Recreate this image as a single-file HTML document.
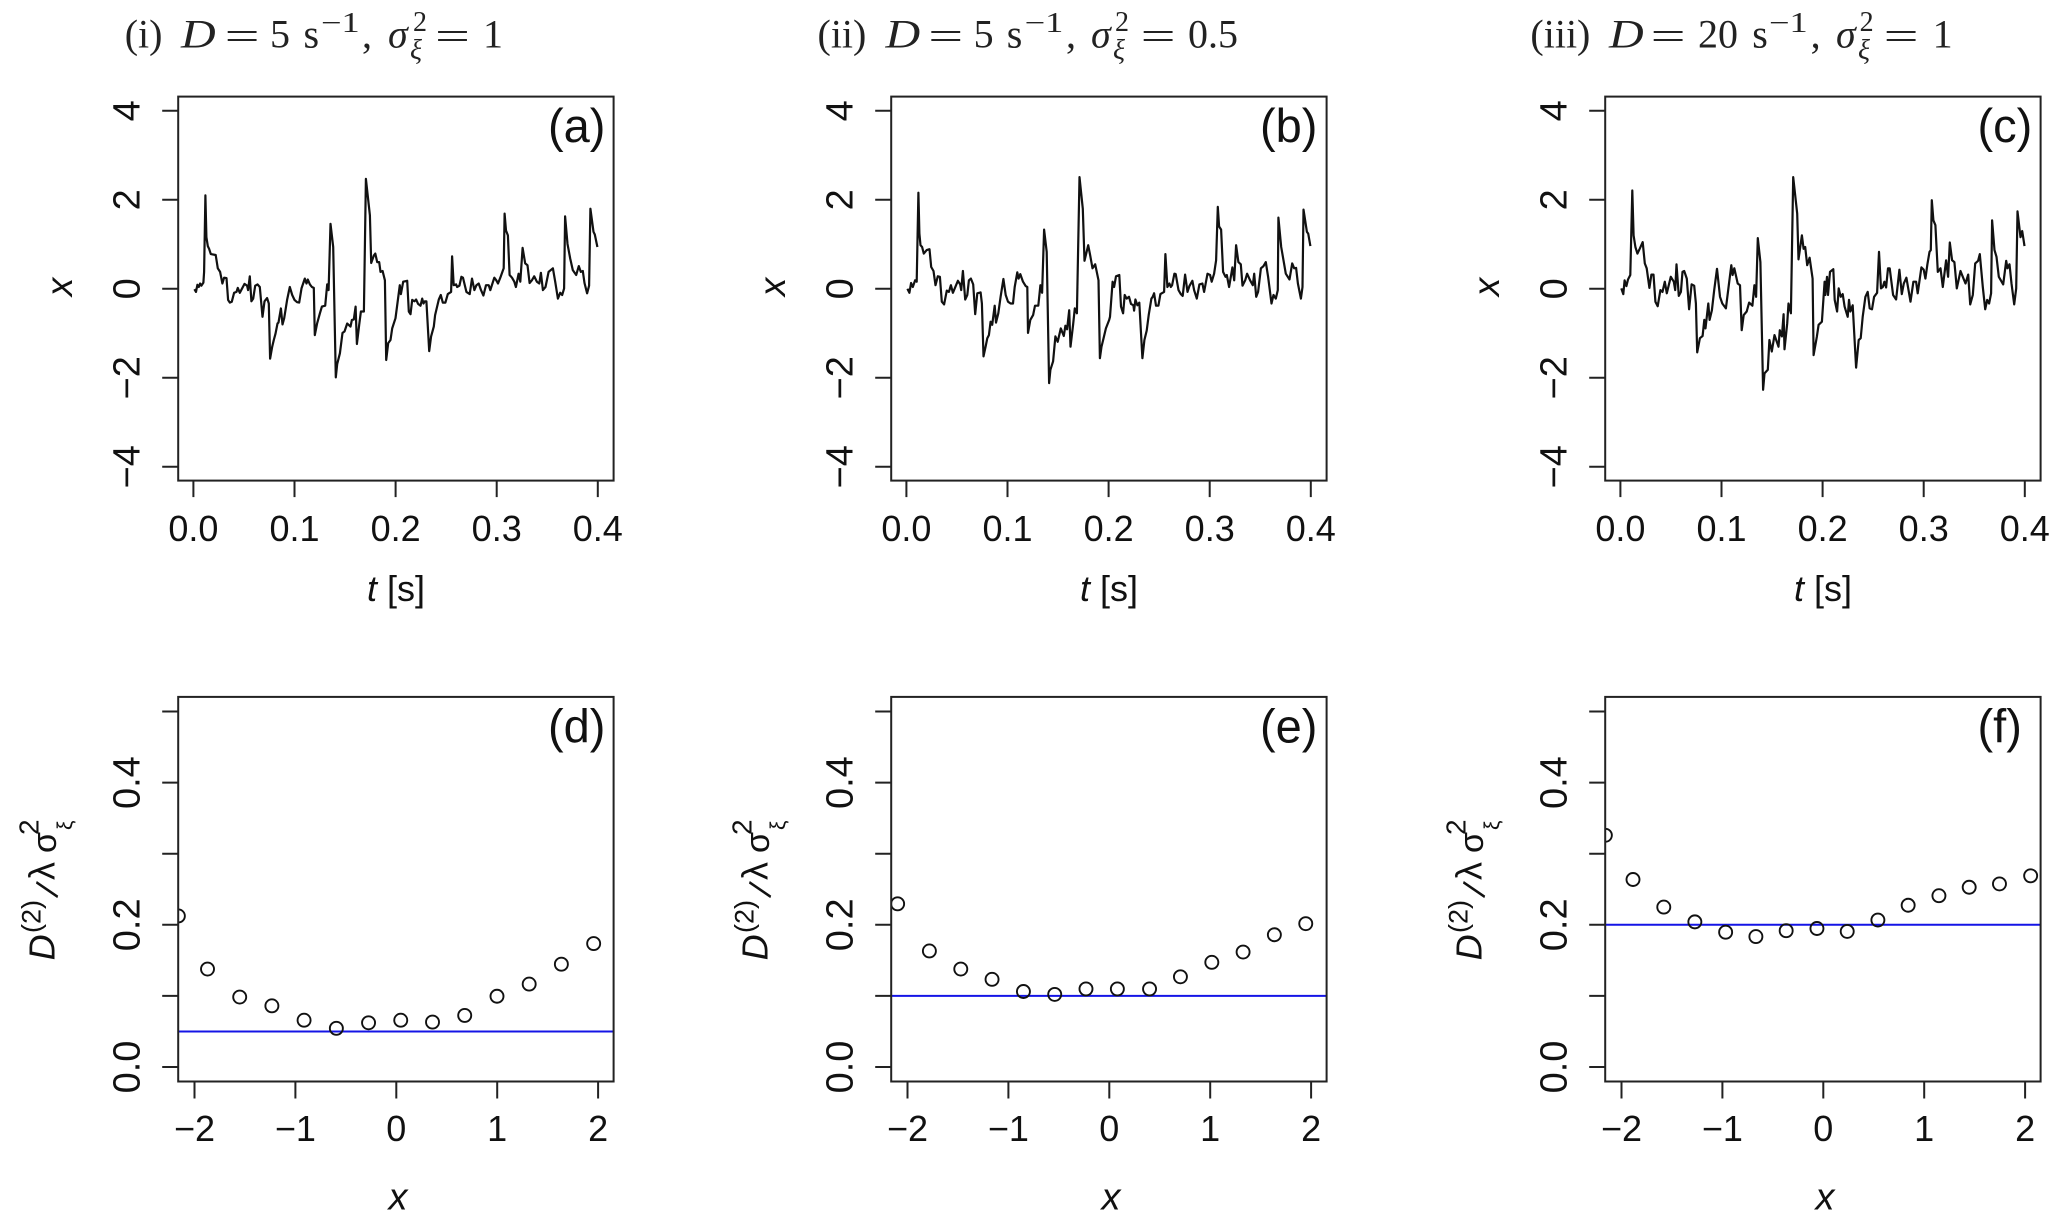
<!DOCTYPE html>
<html lang="en">
<head>
<meta charset="utf-8">
<title>Time series and D2 estimates</title>
<style>
html,body{margin:0;padding:0;background:#fff;}
svg{display:block;}
text{font-family:"Liberation Sans",sans-serif;fill:#111;}
.m text{font-family:"Liberation Serif",serif;font-size:40px;fill:#222;}
.m .it{font-style:italic;}
.m .s{font-size:28px;}
</style>
</head>
<body>
<svg id="fig" xmlns="http://www.w3.org/2000/svg" width="2067" height="1220" viewBox="0 0 2067 1220">
<rect x="0" y="0" width="2067" height="1220" fill="#fff"/>

<g class="m" transform="translate(0,2)">
<text x="124.7" y="45.7">(i)</text>
<text class="it" transform="translate(181,45.7) scale(1.2,1)">D</text>
<text transform="translate(224.6,47.7) scale(1.55,1)">=</text>
<text x="270" y="45.7">5</text>
<text x="303.5" y="45.7">s</text>
<text class="s" transform="translate(321,30) scale(1.3,1)">−1</text>
<text x="362" y="45.7">,</text>
<text class="it" x="388" y="45.7">σ</text>
<text class="s" x="413" y="29">2</text>
<text class="s it" x="410" y="57">ξ</text>
<text transform="translate(435,47.7) scale(1.55,1)">=</text>
<text x="483" y="45.7">1</text>
</g>

<g class="m" transform="translate(0,2)">
<text x="817.5" y="45.7">(ii)</text>
<text class="it" transform="translate(885.5,45.7) scale(1.2,1)">D</text>
<text transform="translate(928.3,47.7) scale(1.55,1)">=</text>
<text x="973.6" y="45.7">5</text>
<text x="1006.8" y="45.7">s</text>
<text class="s" transform="translate(1024.6,30) scale(1.3,1)">−1</text>
<text x="1066" y="45.7">,</text>
<text class="it" x="1091" y="45.7">σ</text>
<text class="s" x="1115" y="29">2</text>
<text class="s it" x="1113" y="57">ξ</text>
<text transform="translate(1140.6,47.7) scale(1.55,1)">=</text>
<text x="1188" y="45.7">0.5</text>
</g>

<g class="m" transform="translate(0,2)">
<text x="1530.4" y="45.7">(iii)</text>
<text class="it" transform="translate(1609,45.7) scale(1.2,1)">D</text>
<text transform="translate(1650.6,47.7) scale(1.55,1)">=</text>
<text x="1698" y="45.7">20</text>
<text x="1752.2" y="45.7">s</text>
<text class="s" transform="translate(1769,30) scale(1.3,1)">−1</text>
<text x="1810.6" y="45.7">,</text>
<text class="it" x="1836" y="45.7">σ</text>
<text class="s" x="1859.6" y="29">2</text>
<text class="s it" x="1858" y="57">ξ</text>
<text transform="translate(1883.6,47.7) scale(1.55,1)">=</text>
<text x="1932.6" y="45.7">1</text>
</g>
</svg>

<script>
// ---------- chart data (time in ms, value x) ----------
const seriesATime = [1,2.6,4,5.3,6.6,7.9,9.9,10.6,11.9,12.9,14.2,15.5,17.2,22.1,24.1,26.4,28.7,30.4,32.7,34.3,36,38,40.3,42.6,43.9,45.9,50.5,53.1,54.1,55.8,57.4,59.1,61.1,63.4,65.7,68.3,70.3,72.9,74.6,75.9,77.9,79.5,81.2,83.2,84.2,86.5,88.1,89.8,92.7,95.4,97.7,100,102.6,104.6,106.9,110.2,111.9,113.2,115.2,117.2,119.1,120.1,122.4,125.1,127.1,130.4,132.3,133.7,135.6,138.3,140.9,142.2,144.9,147.5,149.5,152.1,155.4,156.8,158.7,160.4,161.7,164,165.7,168.6,170.6,174.6,175.9,178.5,179.9,181.8,183.8,185.1,187.1,189.4,190.7,192.7,195,196.6,199.9,204.2,205.2,207.5,211.5,213.1,214.7,216.4,218.7,220.3,222.3,224.6,226.3,227.6,228.9,230.5,233.2,235.1,237.8,239.1,242.7,244.7,246.7,249.3,251.6,254.9,255.9,257.5,259.8,260.8,263.1,265.1,266.7,270,273.3,275.6,277.9,279.9,282.2,284.5,286.8,289.4,292.1,293.7,297.6,299.6,301.3,303.6,305.9,306.9,307.8,309.2,311.1,312.8,315.1,317.4,319,321.7,323.3,325.6,328.2,330.5,332.5,334.8,337.1,339.8,342.1,343.7,345.7,348.3,351.3,355.6,357.9,360.5,362.8,364.8,366.7,367.7,370,372.7,375.3,378.6,381.2,383.2,385.2,386.8,389.4,391.4,392.7,395.7,397,399.6];
const seriesAValue = [-0.01,-0.07,0.09,0.04,0.12,0.07,0.14,0.38,2.1,1.16,0.96,0.9,0.78,0.76,0.46,0.38,0.12,0.25,0.24,-0.25,-0.31,-0.29,-0.09,-0.07,0.02,-0.09,0.11,0.07,-0.03,0.28,-0.28,-0.22,0.07,0.1,0.04,-0.63,-0.28,-0.21,-0.33,-1.57,-1.3,-1.15,-1.01,-0.78,-0.76,-0.44,-0.8,-0.66,-0.25,0.04,-0.14,-0.25,-0.3,-0.31,0.01,0.23,0.12,0.21,0.1,0.04,0.02,-1.04,-0.78,-0.55,-0.4,-0.38,0.1,-0.03,1.46,0.94,-1.99,-1.69,-1.45,-0.99,-0.96,-0.78,-0.85,-0.7,-0.69,-0.4,-1.24,-0.81,-0.51,-0.51,2.47,1.65,0.58,0.75,0.79,0.6,0.6,0.38,0.4,0.19,-1.6,-1.22,-1.15,-0.89,-0.66,0.08,-0.12,0.16,0.18,-0.51,-0.57,-0.25,-0.28,-0.24,-0.34,-0.38,-0.22,-0.33,-0.28,-0.28,-1.4,-1.07,-0.85,-0.59,-0.24,-0.14,-0.31,-0.31,-0.12,-0.07,0.73,0.08,0.1,0.04,0.07,0.27,0.25,-0.07,-0.12,0.23,-0.03,0.08,0.12,-0.03,-0.15,0.08,0.08,-0.03,0.25,0.19,0.12,0.25,0.4,0.46,1.69,1.31,1.2,0.31,0.25,0.16,0.04,0.34,0.16,0.92,0.57,0.53,0.13,0.19,0.28,0.16,0.12,0.36,-0.03,0.04,0.38,0.46,0.16,-0.22,-0.09,-0.14,0.01,1.63,1.01,0.68,0.42,0.31,0.51,0.38,0.4,0.13,-0.1,0.07,1.8,1.28,1.22,0.94];

const seriesBTime = [1,3,4.6,6.3,8.6,10.2,11.9,12.9,13.9,15.5,17.2,20.1,22.8,24.5,26.8,28.8,31.1,33.1,35,37.3,40,42,44,46,50.9,53.2,54.2,55.9,58.2,60.2,61.8,63.8,66.1,68.1,70.1,73.4,74.7,76.3,78.3,80,81.6,83.3,84.9,87.3,88.6,90.9,93.2,95.9,98.2,100.5,103.1,105.4,107.1,109.7,111,112.7,115.3,118,119.6,120.3,122.6,125.3,127.2,130.5,132.5,134.2,136.2,138.8,141.1,142.4,145.1,147.4,149.7,152.7,155.7,157.3,159,161,162.3,164.9,166.6,168.6,171.2,174.5,176.2,179.8,181.8,184.1,186.7,190,191.4,193,195.3,197.3,200.6,201.4,204,205.4,207.3,210.6,212.3,214.3,215.9,217.9,220.2,222.2,224.5,225.2,226.5,228.5,230.4,233.4,235.4,237.7,239.7,242.3,243.6,245,246.9,249.3,251.2,254.9,256.2,258.2,260.1,261.5,262.8,265.1,266.4,269.1,271.4,273.3,275.7,278,279.9,282.9,284.6,287.2,289.8,292.8,294.5,297.8,300.4,302,304.4,306.3,308,309.3,311.3,313.3,315.6,316.9,319.2,322.5,324.2,326.1,328.4,330.8,332.4,335.1,337,340,342.6,344,346,347.9,350.6,353.2,355.5,357.8,361.1,363.1,365.4,367.4,368,370.7,373,375.3,378.9,381.6,383.6,385.5,387.2,390.2,391.8,392.8,396.1,397.4,399.6];
const seriesBValue = [0,-0.09,0.13,0.04,0.19,0.16,2.16,1.24,0.98,0.94,0.79,0.87,0.89,0.49,0.4,0.08,0.28,0.27,-0.29,-0.35,-0.04,-0.07,0.08,-0.09,0.18,0.1,-0.03,0.4,-0.24,-0.14,0.19,0.23,0.1,-0.57,-0.1,-0.08,-0.33,-1.52,-1.3,-1.11,-1.04,-0.74,-0.81,-0.38,-0.76,-0.55,-0.18,0.22,-0.14,-0.29,-0.33,-0.33,0.04,0.37,0.23,0.33,0.16,0.06,0.04,-0.99,-0.7,-0.59,-0.38,-0.38,0.08,-0.09,1.33,0.83,-2.12,-1.82,-1.63,-1.07,-1.19,-0.89,-1.06,-0.83,-0.91,-0.48,-1.3,-0.81,-0.44,-0.55,2.51,1.8,0.63,0.98,0.75,0.46,0.55,0.19,-1.56,-1.3,-1.09,-0.89,-0.7,-0.63,0.16,0.04,0.28,0.31,-0.4,-0.55,-0.14,-0.22,-0.18,-0.34,-0.37,-0.49,-0.24,-0.37,-0.31,-1.56,-1.15,-0.94,-0.59,-0.22,-0.18,-0.1,-0.38,-0.38,-0.12,-0.07,0.78,0.04,0.12,0.04,0.08,0.34,0.33,-0.03,-0.12,-0.16,0.32,-0.07,0.06,0.18,-0.03,-0.22,0.1,0.12,-0.07,0.34,0.31,0.16,0.34,0.64,1.84,1.4,1.33,0.38,0.27,0.31,0.04,0.48,0.19,0.98,0.6,0.55,0.07,0.19,0.34,0.19,0.08,0.34,-0.18,-0.07,0.46,0.51,0.6,0.27,-0.33,-0.14,-0.22,-0.03,1.6,0.94,0.64,0.34,0.21,0.57,0.46,0.47,0.12,-0.22,0.04,1.78,1.28,1.24,0.96];

const seriesCTime = [0.9,2.9,4.2,5.9,7.5,9.8,11.8,13.1,14.8,16.8,19.1,22.1,24.1,26,28.7,30.7,32.7,34.6,36.9,39.6,41.6,43.9,45.9,49.9,52.8,54.2,55.5,57.8,59.8,61.4,63.1,65.7,68,70.4,73,74.7,76,78.6,81.3,83,84.2,86.9,88.2,90.5,92.8,95.5,98.5,100.8,104.4,106.8,109.7,111,112.7,116,118.3,120,122,124.9,127.3,130.6,132.5,134.2,135.9,138.5,141.1,142.5,145.8,147.4,149.8,152.4,156.4,157.7,159.7,161.4,162.3,165,166.3,168.6,170.9,174.9,176.2,179.5,181.2,182.8,184.8,187.1,190.1,191.1,194.4,196,199.3,202,202.7,204.4,205.3,207.3,210.6,212,214.3,215.9,217.9,219.9,221.8,224.8,226.1,227.5,229.8,233.1,235.7,237.7,239.7,242.3,244.6,246.6,248.9,250.9,253.9,255.8,257.8,259.5,261.1,262.8,264.7,266.4,269.7,272.7,276,278.3,280.3,282.9,286.9,289.8,292.5,294.1,297.7,300,301.7,303.7,305.7,307,308,309.6,311.6,313.9,316.6,318.9,322.2,324.1,325.8,328.1,330.4,332.7,336.4,338.7,341.3,344,346,348.6,350.9,353.8,355.5,358.5,360.8,362.8,364.7,366.7,367.7,370,372,374.3,378.6,381.6,382.9,384.9,386.8,389.5,391.5,392.8,395.7,397.4,399.7];
const seriesCValue = [0.01,-0.12,0.19,0.06,0.21,0.31,2.21,1.2,0.94,0.79,0.9,1.05,0.57,0.46,0.02,0.32,0.32,-0.29,-0.39,-0.03,-0.07,0.16,-0.1,0.27,0.16,-0.03,0.55,-0.16,-0.07,0.38,0.4,0.23,-0.46,0.1,0.07,-0.33,-1.43,-1.11,-1.06,-0.7,-0.89,-0.33,-0.7,-0.48,-0.03,0.45,-0.18,-0.33,-0.44,0.01,0.53,0.31,0.46,0.12,0.08,-0.93,-0.59,-0.51,-0.31,-0.38,0.08,-0.18,1.14,0.6,-2.27,-1.9,-1.82,-1.15,-1.41,-1.04,-1.3,-0.93,-1.07,-0.57,-1.36,-0.78,-0.33,-0.55,2.51,1.69,0.66,1.2,0.9,0.94,0.53,0.7,0.23,-1.49,-1.07,-0.81,-0.74,0.16,-0.14,0.27,-0.14,0.38,0.44,-0.25,-0.51,0.01,-0.18,-0.12,-0.4,-0.63,-0.25,-0.51,-0.37,-1.77,-1.15,-1.11,-0.63,-0.18,-0.07,-0.44,-0.46,-0.18,-0.09,0.83,0.01,0.04,0.16,0.03,0.46,0.46,-0.14,-0.24,0.43,-0.12,0.12,0.25,-0.29,0.16,0.16,-0.1,0.48,0.43,0.23,0.55,0.83,0.87,1.99,1.54,1.43,0.38,0.46,0.04,0.64,0.27,1.04,0.64,0.6,0.01,0.4,0.27,0.12,0.32,-0.35,-0.14,0.57,0.63,0.78,0.04,-0.46,-0.25,-0.33,-0.1,1.54,0.87,0.72,0.27,0.1,0.63,0.46,0.55,0.12,-0.35,0.01,1.74,1.16,1.3,0.96];

const scatterDX = [-2.16,-1.871,-1.552,-1.233,-0.914,-0.594,-0.275,0.044,0.359,0.678,0.998,1.317,1.636,1.956];
const scatterDY = [0.2124,0.1378,0.0984,0.086,0.0658,0.0544,0.0622,0.0658,0.0632,0.0725,0.0995,0.1166,0.1446,0.1736];
const scatterEX = [-2.098,-1.783,-1.472,-1.162,-0.851,-0.541,-0.231,0.08,0.399,0.705,1.016,1.326,1.636,1.947];
const scatterEY = [0.2295,0.1632,0.1378,0.1233,0.1062,0.1021,0.1098,0.1098,0.1098,0.1269,0.1472,0.1617,0.186,0.2016];
const scatterFX = [-2.16,-1.886,-1.581,-1.273,-0.968,-0.668,-0.368,-0.063,0.237,0.541,0.841,1.146,1.446,1.746,2.055];
const scatterFY = [0.3259,0.2637,0.2249,0.2041,0.1896,0.1834,0.1917,0.1948,0.1907,0.2067,0.2275,0.2409,0.2528,0.2575,0.2689];
const referenceLevels = [0.05,0.1,0.2];

const topXTicks = [0,0.1,0.2,0.3,0.4];
const topXTickLabels = ['0.0','0.1','0.2','0.3','0.4'];
const topYTicks = [-4,-2,0,2,4];
const topYTickLabels = ['−4','−2','0','2','4'];
const bottomXTicks = [-2,-1,0,1,2];
const bottomXTickLabels = ['−2','−1','0','1','2'];
const bottomYTicks = [0,0.1,0.2,0.3,0.4,0.5];
const bottomYTickValuesLabelled = [0,0.2,0.4];
const bottomYTickLabels = ['0.0','0.2','0.4'];
const topPanelLetters = ['(a)','(b)','(c)'];
const bottomPanelLetters = ['(d)','(e)','(f)'];

// ---------- layout ----------
const columnOffsets = [0,713,1427];
const boxLeft = 178.2, boxWidth = 435.4;
const topBox = {y:96.6,h:384};
const bottomBox = {y:696.9,h:384.6};
const letterLeft = [548,547,550.5];

const svg = document.getElementById('fig');
const NS = 'http://www.w3.org/2000/svg';
function mk(parent, tag, attrs, txt){
  const el = document.createElementNS(NS, tag);
  for (const k in attrs) el.setAttribute(k, attrs[k]);
  if (txt !== undefined) el.textContent = txt;
  parent.appendChild(el);
  return el;
}
// axis functions
function topScaleX(ox, t){ return ox + 193.4 + t * 1011; }
function topScaleY(v){ return 288.8 - v * 44.5; }
function botScaleX(ox, v){ return ox + 396.3 + v * 100.9; }
function botScaleY(v){ return 1067 - v * 711; }

const defs = mk(svg, 'defs', {});
columnOffsets.forEach(function(ox, i){
  const c1 = mk(defs, 'clipPath', {id:'clipTop'+i});
  mk(c1, 'rect', {x:ox+boxLeft, y:topBox.y, width:boxWidth, height:topBox.h});
  const c2 = mk(defs, 'clipPath', {id:'clipBot'+i});
  mk(c2, 'rect', {x:ox+boxLeft, y:bottomBox.y, width:boxWidth, height:bottomBox.h});
});

const topTimes = [seriesATime, seriesBTime, seriesCTime];
const topValues = [seriesAValue, seriesBValue, seriesCValue];
const botXs = [scatterDX, scatterEX, scatterFX];
const botYs = [scatterDY, scatterEY, scatterFY];

columnOffsets.forEach(function(ox, i){
  // ---------- top panel ----------
  const gTop = mk(svg, 'g', {});
  
  

  const pts = topTimes[i].map(function(t, k){
    return topScaleX(ox, t / 1000).toFixed(1) + ',' + topScaleY(topValues[i][k]).toFixed(1);
  }).join(' ');
  const line = mk(gTop, 'polyline', {points:pts, fill:'none', stroke:'#111', 'stroke-width':2.2, 'stroke-linejoin':'round', 'clip-path':'url(#clipTop'+i+')'});
  
  

  const box = mk(gTop, 'rect', {x:ox+boxLeft, y:topBox.y, width:boxWidth, height:topBox.h, fill:'none', stroke:'#222', 'stroke-width':2});
  
  

  topXTicks.forEach(function(t, k){
    const x = topScaleX(ox, t);
    const tick = mk(gTop, 'line', {x1:x, x2:x, y1:topBox.y+topBox.h, y2:topBox.y+topBox.h+16.5, stroke:'#222', 'stroke-width':2});
    
    
    const lab = mk(gTop, 'text', {x:x, y:540.8, 'text-anchor':'middle', 'font-size':36}, topXTickLabels[k]);
    
    
  });
  topYTicks.forEach(function(v, k){
    const y = topScaleY(v);
    const tick = mk(gTop, 'line', {x1:ox+boxLeft-16, x2:ox+boxLeft, y1:y, y2:y, stroke:'#222', 'stroke-width':2});
    
    
    const lab = mk(gTop, 'text', {x:ox+139.5, y:y, 'text-anchor':'middle', 'font-size':38, transform:'rotate(-90 '+(ox+139.5)+' '+y+')'}, topYTickLabels[k]);
    
    
  });
  const xt = mk(gTop, 'text', {x:ox+396, y:601, 'text-anchor':'middle', 'font-size':36});
  
  
  mk(xt, 'tspan', {'font-style':'italic'}, 't');
  mk(xt, 'tspan', {}, ' [s]');
  const yt = mk(gTop, 'text', {x:ox+71.8, y:287, 'text-anchor':'middle', 'font-size':37, 'font-style':'italic', transform:'rotate(-90 '+(ox+71.8)+' 287)'}, 'x');
  
  
  const letter = mk(gTop, 'text', {x:ox+letterLeft[i], y:142, 'font-size':47}, topPanelLetters[i]);
  
  

  // ---------- bottom panel ----------
  const gBot = mk(svg, 'g', {});
  
  

  const ref = mk(gBot, 'line', {x1:ox+boxLeft, x2:ox+boxLeft+boxWidth, y1:botScaleY(referenceLevels[i]), y2:botScaleY(referenceLevels[i]), stroke:'#1414e6', 'stroke-width':2});
  
  

  const ptsGroup = mk(gBot, 'g', {'clip-path':'url(#clipBot'+i+')'});
  
  
  botXs[i].forEach(function(v, k){
    const c = mk(ptsGroup, 'circle', {cx:botScaleX(ox, v), cy:botScaleY(botYs[i][k]), r:6.5, fill:'none', stroke:'#111', 'stroke-width':1.9});
    
    
  });

  const box2 = mk(gBot, 'rect', {x:ox+boxLeft, y:bottomBox.y, width:boxWidth, height:bottomBox.h, fill:'none', stroke:'#222', 'stroke-width':2});
  
  

  bottomXTicks.forEach(function(v, k){
    const x = botScaleX(ox, v);
    const tick = mk(gBot, 'line', {x1:x, x2:x, y1:bottomBox.y+bottomBox.h, y2:bottomBox.y+bottomBox.h+17, stroke:'#222', 'stroke-width':2});
    
    
    const lab = mk(gBot, 'text', {x:x, y:1141, 'text-anchor':'middle', 'font-size':36}, bottomXTickLabels[k]);
    
    
  });
  bottomYTicks.forEach(function(v){
    const y = botScaleY(v);
    const tick = mk(gBot, 'line', {x1:ox+boxLeft-16, x2:ox+boxLeft, y1:y, y2:y, stroke:'#222', 'stroke-width':2});
    
    
  });
  bottomYTickValuesLabelled.forEach(function(v, k){
    const y = botScaleY(v);
    const lab = mk(gBot, 'text', {x:ox+139.5, y:y, 'text-anchor':'middle', 'font-size':38, transform:'rotate(-90 '+(ox+139.5)+' '+y+')'}, bottomYTickLabels[k]);
    
    
  });
  const xt2 = mk(gBot, 'text', {x:ox+398, y:1209.5, 'text-anchor':'middle', 'font-size':38, 'font-style':'italic'}, 'x');
  
  

  const yTitle = mk(gBot, 'g', {});
  
  
  mk(yTitle, 'text', {'font-size':36, 'font-style':'italic', transform:'translate('+(ox+54.7)+',960.4) rotate(-90)'}, 'D');
  mk(yTitle, 'text', {'font-size':27, transform:'translate('+(ox+40.4)+',933) rotate(-90)'}, '(2)');
  mk(yTitle, 'text', {'font-size':34, transform:'translate('+(ox+57)+',898) rotate(-90) rotate(19)'}, '/');
  mk(yTitle, 'text', {'font-size':36, transform:'translate('+(ox+54.7)+',880) rotate(-90)'}, 'λ');
  mk(yTitle, 'text', {'font-size':34, transform:'translate('+(ox+56)+',853) rotate(-90)'}, 'σ');
  mk(yTitle, 'text', {'font-size':28, transform:'translate('+(ox+38.5)+',835) rotate(-90)'}, '2');
  mk(yTitle, 'text', {'font-size':21, transform:'translate('+(ox+71.8)+',830) rotate(-90)'}, 'ξ');

  const letter2 = mk(gBot, 'text', {x:ox+letterLeft[i], y:742.5, 'font-size':47}, bottomPanelLetters[i]);
  
  
});
</script>
</body>
</html>
